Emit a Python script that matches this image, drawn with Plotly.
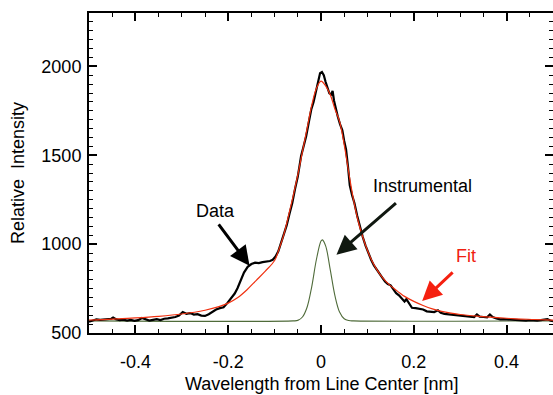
import plotly.graph_objects as go

# ---- data ----
data_x = [-0.500, -0.492, -0.484, -0.476, -0.468, -0.460, -0.452, -0.448, -0.442, -0.434,
          -0.426, -0.418, -0.410, -0.402, -0.394, -0.386, -0.378, -0.370, -0.362, -0.354,
          -0.346, -0.338, -0.330, -0.322, -0.314, -0.306, -0.298, -0.290, -0.282, -0.274,
          -0.266, -0.258, -0.250, -0.242, -0.234, -0.226, -0.218, -0.210, -0.202, -0.194,
          -0.186, -0.180, -0.174, -0.166, -0.158, -0.150, -0.142, -0.134, -0.126, -0.118,
          -0.110, -0.104, -0.098, -0.092, -0.086, -0.080, -0.074, -0.068, -0.062, -0.056,
          -0.050, -0.043, -0.038, -0.032, -0.026, -0.021, -0.016, -0.011, -0.006, -0.002,
          0.002, 0.006, 0.010, 0.014, 0.018, 0.022, 0.025, 0.028, 0.032, 0.036,
          0.041, 0.046, 0.050, 0.054, 0.058, 0.062, 0.067, 0.072, 0.078, 0.084,
          0.090, 0.096, 0.102, 0.108, 0.114, 0.120, 0.126, 0.132, 0.138, 0.144,
          0.150, 0.156, 0.162, 0.168, 0.174, 0.180, 0.184, 0.190, 0.196, 0.204,
          0.212, 0.220, 0.228, 0.236, 0.244, 0.252, 0.258, 0.266, 0.274, 0.282,
          0.290, 0.298, 0.306, 0.314, 0.322, 0.330, 0.336, 0.342, 0.350, 0.358,
          0.364, 0.370, 0.378, 0.386, 0.394, 0.402, 0.410, 0.418, 0.426, 0.434,
          0.442, 0.450, 0.458, 0.466, 0.474, 0.482, 0.488, 0.494, 0.500]
data_y = [563, 572, 577, 574, 576, 575, 580, 587, 578, 572,
          575, 570, 574, 568, 572, 584, 576, 570, 574, 578,
          573, 580, 582, 585, 590, 598, 618, 608, 612, 604,
          606, 598, 596, 606, 620, 632, 640, 645, 668, 695,
          722, 752, 790, 840, 872, 888, 896, 893, 899, 902,
          905, 912, 930, 960, 1006, 1055, 1105, 1170, 1230, 1310,
          1380, 1494, 1545, 1607, 1690, 1757, 1800, 1860, 1930, 1962,
          1968, 1950, 1912, 1875, 1848, 1842, 1862, 1808, 1760, 1719,
          1675, 1640, 1580, 1532, 1440, 1330, 1275, 1231, 1160, 1095,
          1040, 992, 950, 912, 880, 855, 834, 812, 790, 775,
          768, 748, 724, 712, 695, 677, 690, 665, 642, 640,
          638, 632, 622, 620, 618, 628, 614, 608, 606, 604,
          603, 601, 600, 598, 596, 590, 604, 592, 590, 588,
          604, 590, 582, 577, 578, 576, 577, 574, 572, 568,
          570, 572, 569, 570, 572, 576, 578, 570, 566]

fit_x = [-0.50, -0.45, -0.40, -0.35, -0.30, -0.25, -0.22, -0.20, -0.18, -0.16,
         -0.14, -0.12, -0.10, -0.09, -0.08, -0.07, -0.06, -0.05, -0.04, -0.03,
         -0.02, -0.01, 0.00, 0.01, 0.02, 0.03, 0.04, 0.05, 0.06, 0.07,
         0.08, 0.09, 0.10, 0.11, 0.12, 0.13, 0.14, 0.15, 0.16, 0.17,
         0.18, 0.20, 0.22, 0.24, 0.26, 0.28, 0.30, 0.34, 0.38, 0.42,
         0.46, 0.50]
fit_y = [573, 578, 585, 594, 607, 628, 648, 668, 698, 742,
         795, 848, 908, 975, 1055, 1160, 1270, 1390, 1520, 1650,
         1780, 1875, 1917, 1890, 1840, 1760, 1690, 1560, 1400, 1250,
         1130, 1040, 965, 905, 858, 820, 790, 765, 745, 725,
         706, 678, 655, 636, 622, 612, 604, 594, 586, 580,
         576, 572]

inst_x = [-0.50, -0.06, -0.05, -0.04, -0.03, -0.02, -0.01, 0.000, 0.003, 0.01,
          0.02, 0.03, 0.04, 0.05, 0.06, 0.07, 0.50]
inst_y = [568, 568, 571, 590, 645, 760, 912, 1017, 1024, 990,
          855, 710, 618, 580, 570, 568, 568]

x_ticks = [-0.4, -0.2, 0, 0.2, 0.4]
x_labels = ["-0.4", "-0.2", "0", "0.2", "0.4"]
y_ticks = [500, 1000, 1500, 2000]
y_labels = ["500", "1000", "1500", "2000"]

FONT = "Liberation Sans, Arial, sans-serif"

fig = go.Figure()
fig.add_trace(go.Scatter(x=inst_x, y=inst_y, mode="lines",
                         line=dict(color="#4f6b3a", width=1.1, shape="spline"),
                         showlegend=False))
fig.add_trace(go.Scatter(x=data_x, y=data_y, mode="lines",
                         line=dict(color="black", width=2.2),
                         showlegend=False))
fig.add_trace(go.Scatter(x=fit_x, y=fit_y, mode="lines",
                         line=dict(color="#f03010", width=1.2, shape="spline"),
                         showlegend=False))

fig.update_layout(
    width=553, height=395,
    margin=dict(l=89, r=0, t=13, b=62),
    paper_bgcolor="white", plot_bgcolor="white",
    font=dict(family=FONT, size=18, color="black"),
    xaxis=dict(range=[-0.5, 0.5], tickvals=x_ticks, ticktext=x_labels,
               ticks="inside", ticklen=8, tickwidth=1.5, tickcolor="black",
               minor=dict(tickvals=[-0.45, -0.35, -0.3, -0.25, -0.15, -0.1, -0.05,
                                    0.05, 0.1, 0.15, 0.25, 0.3, 0.35, 0.45],
                          ticks="inside", ticklen=4, tickwidth=1, tickcolor="black"),
               showline=True, linewidth=2, linecolor="black", mirror="ticks",
               showgrid=False, zeroline=False, ticklabelstandoff=11,
               automargin=False, tickfont=dict(size=18)),
    yaxis=dict(range=[500, 2300], tickvals=y_ticks, ticktext=y_labels,
               ticks="inside", ticklen=8, tickwidth=1.5, tickcolor="black",
               minor=dict(dtick=50, tick0=500, ticks="inside", ticklen=4,
                          tickwidth=1, tickcolor="black"),
               showline=True, linewidth=2, linecolor="black", mirror="ticks",
               showgrid=False, zeroline=False, ticklabelstandoff=2,
               automargin=False, tickfont=dict(size=18)),
)

# axis titles
fig.add_annotation(xref="paper", yref="paper", x=0.5, y=0, yanchor="top",
                   yshift=-39, text="Wavelength from Line Center [nm]",
                   showarrow=False, font=dict(size=18))
fig.add_annotation(xref="paper", yref="paper", x=0, y=0.5, xanchor="center",
                   xshift=-71, text="Relative  Intensity", textangle=-90,
                   showarrow=False, font=dict(size=18))

# text labels
fig.add_annotation(x=-0.227, y=1188, text="Data", showarrow=False,
                   font=dict(size=18, color="black"))
fig.add_annotation(x=0.218, y=1329, text="Instrumental", showarrow=False,
                   font=dict(size=18, color="black"))
fig.add_annotation(x=0.313, y=934, text="Fit", showarrow=False,
                   font=dict(size=18, color="#f02010"))

# arrows
fig.add_annotation(x=-0.154, y=878, text="", showarrow=True, ax=-32, ay=-43,
                   arrowhead=2, arrowsize=1.3, arrowwidth=3, arrowcolor="black")
fig.add_annotation(x=0.0333, y=940, text="", showarrow=True, ax=61, ay=-53,
                   arrowhead=2, arrowsize=1.3, arrowwidth=3, arrowcolor="#101810")
fig.add_annotation(x=0.218, y=680, text="", showarrow=True, ax=32, ay=-30,
                   arrowhead=2, arrowsize=1.3, arrowwidth=3, arrowcolor="#f52010")

fig.write_html(
    "out.html",
    config={"displayModeBar": False},
    post_script="document.body.style.margin='0';document.body.style.overflow='hidden';",
)
